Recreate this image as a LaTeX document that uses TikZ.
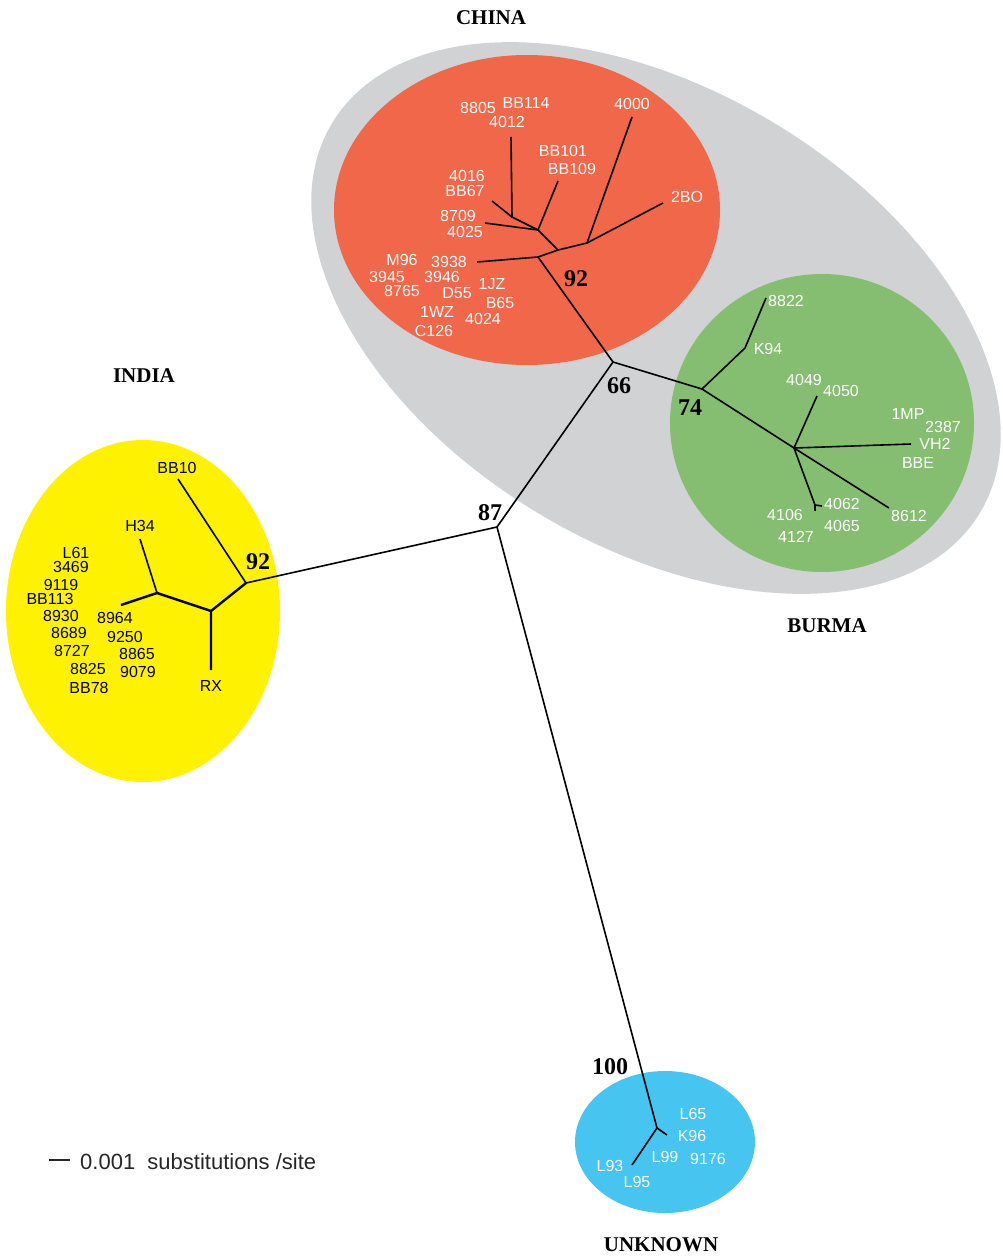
\documentclass[tikz,border=0pt]{standalone}
\usepackage{fontspec}
\setmainfont{Liberation Serif}
\setsansfont{Liberation Sans}
\definecolor{huiqu}{RGB}{208,210,212}
\definecolor{hongqu}{RGB}{240,103,74}
\definecolor{lvqu}{RGB}{133,190,112}
\definecolor{huangqu}{RGB}{255,242,0}
\definecolor{lanqu}{RGB}{70,197,240}
\begin{document}
\begin{tikzpicture}[x=1pt,y=-1pt,
  bai/.style={font=\sffamily\fontsize{16}{16}\selectfont,text=white,inner sep=0pt},
  hei/.style={bai,text=black},
  zhichi/.style={font=\bfseries\fontsize{24}{24}\selectfont,inner sep=0pt},
  diqu/.style={font=\bfseries\fontsize{21}{21}\selectfont,inner sep=0pt},
  zhi/.style={line width=1.6pt},
  cuzhi/.style={line width=2.4pt}]
% 系统发育树示意
\useasboundingbox (0,0) rectangle (1002,1258);
\fill[huiqu,rotate around={-31:(656,318)}] (656,318) ellipse [x radius=378,y radius=228];
\fill[hongqu] (527,210) ellipse [x radius=193,y radius=155];
\fill[lvqu] (822,423) ellipse [x radius=152,y radius=149];
\fill[huangqu] (143,611) ellipse [x radius=137,y radius=171];
\fill[lanqu] (665,1142) ellipse [x radius=90,y radius=71];
% 地区
\node[diqu] (china) at (491,18) {CHINA};
\node[diqu] (india) at (144,376) {INDIA};
\node[diqu] (burma) at (827,626) {BURMA};
\node[diqu] (unknown) at (661,1245) {UNKNOWN};
% 分支点
\coordinate (n87) at (497,527);
\coordinate (n66) at (613,362);
\coordinate (c0) at (538,257);
\coordinate (c1) at (558,250);
\coordinate (c2) at (587,243);
\coordinate (c3) at (538,230);
\coordinate (c4) at (512,217);
\coordinate (t3938) at (477,262);
\coordinate (t4000) at (632,117);
\coordinate (t2bo) at (663,203);
\coordinate (tbb101) at (558,181);
\coordinate (t8709) at (485,223);
\coordinate (tbb67) at (492,201);
\coordinate (t4012) at (511,137);
\coordinate (b74) at (702,389);
\coordinate (bk) at (745,348);
\coordinate (t8822) at (766,298);
\coordinate (bm) at (794,448);
\coordinate (t4050) at (817,396);
\coordinate (tvh2) at (911,444);
\coordinate (t8612) at (889,508);
\coordinate (bq) at (815,505);
\coordinate (t4062) at (822,506);
\coordinate (t4106) at (815,511);
\coordinate (i92) at (246,583);
\coordinate (ij) at (211,611);
\coordinate (ik) at (157,593);
\coordinate (tbb10) at (178,479);
\coordinate (trx) at (211,670);
\coordinate (th34) at (140,539);
\coordinate (t8964) at (121,605);
\coordinate (u100) at (657,1128);
\coordinate (tk96) at (667,1135);
\coordinate (tl93) at (632,1165);
% 树枝
\draw[zhi] (i92) -- (n87) -- (n66) -- (c0);
\draw[zhi] (n87) -- (u100) -- (tk96);
\draw[zhi] (u100) -- (tl93);
\draw[zhi] (t3938) -- (c0) -- (c1) -- (c2) -- (t2bo);
\draw[zhi] (c2) -- (t4000);
\draw[zhi] (c1) -- (c3) -- (tbb101);
\draw[zhi] (c3) -- (c4) -- (t4012);
\draw[zhi] (c4) -- (tbb67);
\draw[zhi] (c3) -- (t8709);
\draw[zhi] (n66) -- (b74) -- (bk) -- (t8822);
\draw[zhi] (b74) -- (bm) -- (tvh2);
\draw[zhi] (bm) -- (t4050);
\draw[zhi] (bm) -- (t8612);
\draw[zhi] (bm) -- (bq) -- (t4062);
\draw[zhi] (bq) -- (t4106);
\draw[zhi] (i92) -- (tbb10);
\draw[cuzhi] (i92) -- (ij) -- (trx);
\draw[cuzhi] (ij) -- (ik) -- (t8964);
\draw[zhi] (ik) -- (th34);
% 支持率
\node[zhichi] (s87) at (490,513) {87};
\node[zhichi] (s66) at (619,386) {66};
\node[zhichi] (s92c) at (576,279) {92};
\node[zhichi] (s74) at (690,408) {74};
\node[zhichi] (s92i) at (258,562) {92};
\node[zhichi] (s100) at (610,1067) {100};
% 中国
\node[bai] (l8805) at (478,108) {8805};
\node[bai] (lbb114) at (526,103) {BB114};
\node[bai] (l4012) at (507,122) {4012};
\node[bai] (l4000) at (632,104) {4000};
\node[bai] (lbb101) at (563,151) {BB101};
\node[bai] (lbb109) at (572,169) {BB109};
\node[bai] (l4016) at (467,176) {4016};
\node[bai] (lbb67) at (465,191) {BB67};
\node[bai] (l2bo) at (687,197) {2BO};
\node[bai] (l8709) at (458,216) {8709};
\node[bai] (l4025) at (465,232) {4025};
\node[bai] (lm96) at (402,260) {M96};
\node[bai] (l3938) at (449,262) {3938};
\node[bai] (l3945) at (387,277) {3945};
\node[bai] (l3946) at (442,277) {3946};
\node[bai] (l1jz) at (492,284) {1JZ};
\node[bai] (l8765) at (402,291) {8765};
\node[bai] (ld55) at (457,293) {D55};
\node[bai] (lb65) at (500,303) {B65};
\node[bai] (l1wz) at (437,312) {1WZ};
\node[bai] (l4024) at (483,319) {4024};
\node[bai] (lc126) at (434,331) {C126};
% 缅甸
\node[bai] (l8822) at (786,301) {8822};
\node[bai] (lk94) at (768,349) {K94};
\node[bai] (l4049) at (804,380) {4049};
\node[bai] (l4050) at (841,391) {4050};
\node[bai] (l1mp) at (908,414) {1MP};
\node[bai] (l2387) at (943,427) {2387};
\node[bai] (lvh2) at (935,444) {VH2};
\node[bai] (lbbe) at (918,463) {BBE};
\node[bai] (l4062) at (842,504) {4062};
\node[bai] (l8612) at (909,516) {8612};
\node[bai] (l4106) at (785,515) {4106};
\node[bai] (l4065) at (842,526) {4065};
\node[bai] (l4127) at (796,537) {4127};
% 印度
\node[hei] (lbb10) at (177,468) {BB10};
\node[hei] (lh34) at (140,526) {H34};
\node[hei] (ll61) at (76,553) {L61};
\node[hei] (l3469) at (71,567) {3469};
\node[hei] (l9119) at (61,585) {9119};
\node[hei] (lbb113) at (50,599) {BB113};
\node[hei] (l8930) at (61,616) {8930};
\node[hei] (l8964) at (115,618) {8964};
\node[hei] (l8689) at (69,633) {8689};
\node[hei] (l9250) at (125,637) {9250};
\node[hei] (l8727) at (72,651) {8727};
\node[hei] (l8865) at (137,654) {8865};
\node[hei] (l8825) at (88,669) {8825};
\node[hei] (l9079) at (138,672) {9079};
\node[hei] (lbb78) at (89,688) {BB78};
\node[hei] (lrx) at (211,686) {RX};
% 未知
\node[bai] (ll65) at (693,1114) {L65};
\node[bai] (lk96) at (692,1136) {K96};
\node[bai] (ll99) at (665,1157) {L99};
\node[bai] (l9176) at (708,1159) {9176};
\node[bai] (ll93) at (610,1166) {L93};
\node[bai] (ll95) at (637,1182) {L95};
% 标尺
\coordinate (bl) at (49,1160);
\coordinate (br) at (70,1160);
\draw[line width=1.6pt,black!85] (bl) -- (br);
\node[hei,font=\sffamily\fontsize{22}{22}\selectfont,anchor=west,text=black!85] (biaochi) at (80,1162) {0.001~ substitutions /site};
\end{tikzpicture}
\end{document}
